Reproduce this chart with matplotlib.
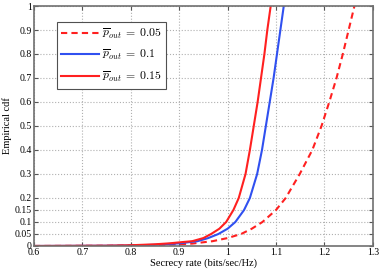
import matplotlib
matplotlib.use('Agg')
import matplotlib.pyplot as plt

plt.rcParams['font.family'] = 'Liberation Serif'
plt.rcParams['mathtext.fontset'] = 'cm'

# CDF curves
x_005 = [0.60, 0.75, 0.80, 0.85, 0.90, 0.927, 0.969, 1.0, 1.028, 1.05, 1.072, 1.10,
         1.120, 1.149, 1.175, 1.194, 1.210, 1.225, 1.238, 1.250, 1.262]
y_005 = [0, 0.001, 0.002, 0.004, 0.007, 0.01, 0.02, 0.033, 0.05, 0.072, 0.10, 0.15,
         0.20, 0.30, 0.40, 0.50, 0.60, 0.70, 0.80, 0.90, 1.0]

x_01 = [0.60, 0.75, 0.80, 0.85, 0.90, 0.938, 0.96, 0.981, 1.0, 1.016, 1.034, 1.046,
        1.061, 1.071, 1.079, 1.087, 1.095, 1.102, 1.109, 1.116]
y_01 = [0, 0.001, 0.002, 0.005, 0.011, 0.02, 0.033, 0.05, 0.072, 0.10, 0.15, 0.20,
        0.30, 0.40, 0.50, 0.60, 0.70, 0.80, 0.90, 1.0]

x_015 = [0.60, 0.75, 0.80, 0.85, 0.88, 0.90, 0.927, 0.95, 0.966, 0.983, 0.997, 1.012,
         1.023, 1.037, 1.046, 1.054, 1.062, 1.069, 1.076, 1.082, 1.089]
y_015 = [0, 0.001, 0.003, 0.007, 0.011, 0.015, 0.02, 0.033, 0.05, 0.072, 0.10, 0.15,
         0.20, 0.30, 0.40, 0.50, 0.60, 0.70, 0.80, 0.90, 1.0]

labels = [r'$\overline{p}_{out}\:=\:0.05$', r'$\overline{p}_{out}\:=\:0.1$', r'$\overline{p}_{out}\:=\:0.15$']
xticks = [0.6, 0.7, 0.8, 0.9, 1.0, 1.1, 1.2, 1.3]
xticklabels = ['0.6', '0.7', '0.8', '0.9', '1', '1.1', '1.2', '1.3']
yticks = [0, 0.05, 0.1, 0.15, 0.2, 0.3, 0.4, 0.5, 0.6, 0.7, 0.8, 0.9, 1.0]
yticklabels = ['0', '0.05', '0.1', '0.15', '0.2', '0.3', '0.4', '0.5', '0.6', '0.7', '0.8', '0.9', '1']

fig = plt.figure(figsize=(3.82, 2.73), dpi=100)
ax = fig.add_axes([0.0890, 0.099, 0.887, 0.879])

ax.plot(x_005, y_005, color='#ff2020', linestyle='--', linewidth=1.5, dashes=(3, 2), label=labels[0])
ax.plot(x_01, y_01, color='#3050f0', linewidth=1.5, label=labels[1])
ax.plot(x_015, y_015, color='#ff2020', linewidth=1.5, label=labels[2])

ax.set_xlim(0.6, 1.3)
ax.set_ylim(0, 1)
ax.set_xticks(xticks)
ax.set_xticklabels(xticklabels)
ax.set_yticks(yticks)
ax.set_yticklabels(yticklabels)
ax.tick_params(direction='in', top=True, right=True, labelsize=7, length=3,
               color='#555555', pad=1.5)
ax.grid(True, linestyle=':', color='#b0b0b0', linewidth=0.8)
for s in ax.spines.values():
    s.set_color('#707070')
    s.set_linewidth(1.2)

ax.set_xlabel('Secrecy rate (bits/sec/Hz)', fontsize=7.5, labelpad=1)
ax.set_ylabel('Empirical cdf', fontsize=7.5, labelpad=2)

leg = ax.legend(loc='upper left', bbox_to_anchor=(0.067, 0.933), borderaxespad=0,
                fontsize=8.5, fancybox=False, framealpha=1, edgecolor='#505050',
                handlelength=3.2, handletextpad=0.25, labelspacing=0.65)
leg.get_frame().set_linewidth(0.8)

fig.savefig('out.png', dpi=100)
